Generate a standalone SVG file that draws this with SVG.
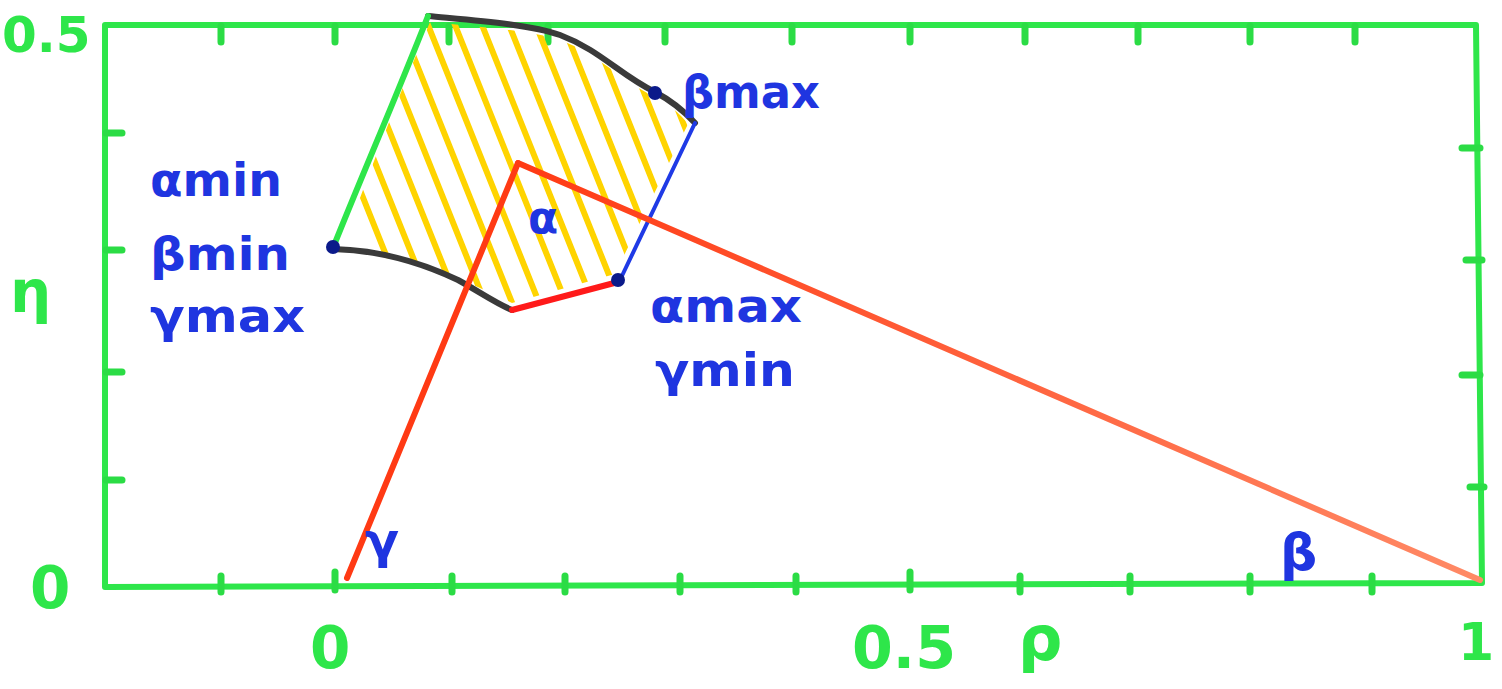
<svg xmlns="http://www.w3.org/2000/svg" width="1502" height="689" viewBox="0 0 1502 689">
<style>
.g{fill:none;stroke:#2ee64a;stroke-width:6;stroke-linecap:round;stroke-linejoin:round}
.tk{fill:none;stroke:#2bdc45;stroke-width:7;stroke-linecap:round}
.blk{fill:none;stroke:#3a3a3a;stroke-width:6;stroke-linecap:round}
.hat{stroke:#ffd400;stroke-width:6;stroke-linecap:round}
.gl{font-family:"DejaVu Sans",sans-serif;font-weight:bold;fill:#2ee64a}
.bl{font-family:"DejaVu Sans",sans-serif;font-weight:bold;fill:#1f35e0}
.dot{fill:#0b1a8a}
</style>
<defs>
<linearGradient id="rg" x1="518" y1="163" x2="1480" y2="580" gradientUnits="userSpaceOnUse">
<stop offset="0" stop-color="#ff3a14"/><stop offset="1" stop-color="#ff8a66"/>
</linearGradient>
<clipPath id="clip"><path d="M430,22 C470,26 530,30 560,40 C600,55 620,80 655,97 C668,104 680,113 688,124 L615,274 L512,303 C470,283 420,258 340,252 C370,170 400,92 430,22 Z"/></clipPath>
</defs>
<rect width="1502" height="689" fill="#ffffff"/>
<g id="frame">
<path class="g" d="M105,25 L1476,25 L1482,583 L105,587 Z"/>
</g>
<g id="ticks">
<path class="tk" d="M221,26 v16 M335,26 v16 M449,26 v16 M548,26 v16 M665,26 v16 M792,26 v16 M910,26 v16 M1025,26 v16 M1138,26 v16 M1250,26 v16 M1355,26 v16"/>
<path class="tk" d="M221,576 v16 M335,572 v18 M452,576 v16 M565,576 v16 M680,576 v16 M796,576 v16 M910,572 v18 M1020,576 v16 M1130,576 v16 M1250,576 v16 M1372,576 v16"/>
<path class="tk" d="M106,133 h16 M106,250 h16 M106,372 h16 M106,480 h16"/>
<path class="tk" d="M1462,148 h18 M1466,260 h16 M1462,375 h18 M1470,487 h14"/>
</g>
<g id="region">
<g clip-path="url(#clip)">
<path class="hat" d="M284,0 l200,500 M310,0 l200,500 M337,0 l200,500 M364,0 l200,500 M391,0 l200,500 M418,0 l200,500 M445,0 l200,500 M472,0 l200,500 M499,0 l200,500 M526,0 l200,500 M553,0 l200,500 M580,0 l200,500 M607,0 l200,500 M634,0 l200,500 M661,0 l200,500 M688,0 l200,500"/>
</g>
<path class="blk" d="M428,16 C470,20 530,24 560,35 C600,50 620,75 655,92 C670,100 685,112 695,123"/>
<path class="blk" d="M333,249 C380,250 420,262 458,280 C480,292 495,303 512,310"/>
<path d="M695,123 L620,280" fill="none" stroke="#1f3ae6" stroke-width="4" stroke-linecap="round"/>
<path d="M618,282 L512,310" fill="none" stroke="#ff1a1a" stroke-width="6" stroke-linecap="round"/>
<path class="g" d="M333,248 C360,180 395,100 428,16"/>
<circle class="dot" cx="655" cy="93" r="7"/>
<circle class="dot" cx="618" cy="280" r="7"/>
<circle class="dot" cx="333" cy="247" r="7"/>
</g>
<g id="connectors">
<path d="M347,578 L518,163" fill="none" stroke="#ff3a14" stroke-width="6" stroke-linecap="round"/>
<path d="M518,163 L1480,580" fill="none" stroke="url(#rg)" stroke-width="6" stroke-linecap="round"/>
</g>
<g id="axis-labels">
<text class="gl" x="2" y="52" font-size="50">0.5</text>
<text class="gl" x="10" y="312" font-size="58">η</text>
<text class="gl" x="30" y="608" font-size="58">0</text>
<text class="gl" x="310" y="668" font-size="58">0</text>
<text class="gl" x="852" y="668" font-size="58" textLength="104" lengthAdjust="spacingAndGlyphs">0.5</text>
<text class="gl" x="1018" y="660" font-size="62">ρ</text>
<text class="gl" x="1458" y="660" font-size="52">1</text>
</g>
<g id="labels">
<text class="bl" x="150" y="196" font-size="46" textLength="132" lengthAdjust="spacingAndGlyphs">αmin</text>
<text class="bl" x="150" y="270" font-size="46" textLength="140" lengthAdjust="spacingAndGlyphs">βmin</text>
<text class="bl" x="150" y="332" font-size="46" textLength="155" lengthAdjust="spacingAndGlyphs">γmax</text>
<text class="bl" x="682" y="108" font-size="46" textLength="138" lengthAdjust="spacingAndGlyphs">βmax</text>
<text class="bl" x="650" y="322" font-size="46" textLength="152" lengthAdjust="spacingAndGlyphs">αmax</text>
<text class="bl" x="655" y="386" font-size="46" textLength="140" lengthAdjust="spacingAndGlyphs">γmin</text>
<text class="bl" x="528" y="233" font-size="44">α</text>
<text class="bl" x="365" y="558" font-size="50">γ</text>
<text class="bl" x="1280" y="570" font-size="52">β</text>
</g>
</svg>
